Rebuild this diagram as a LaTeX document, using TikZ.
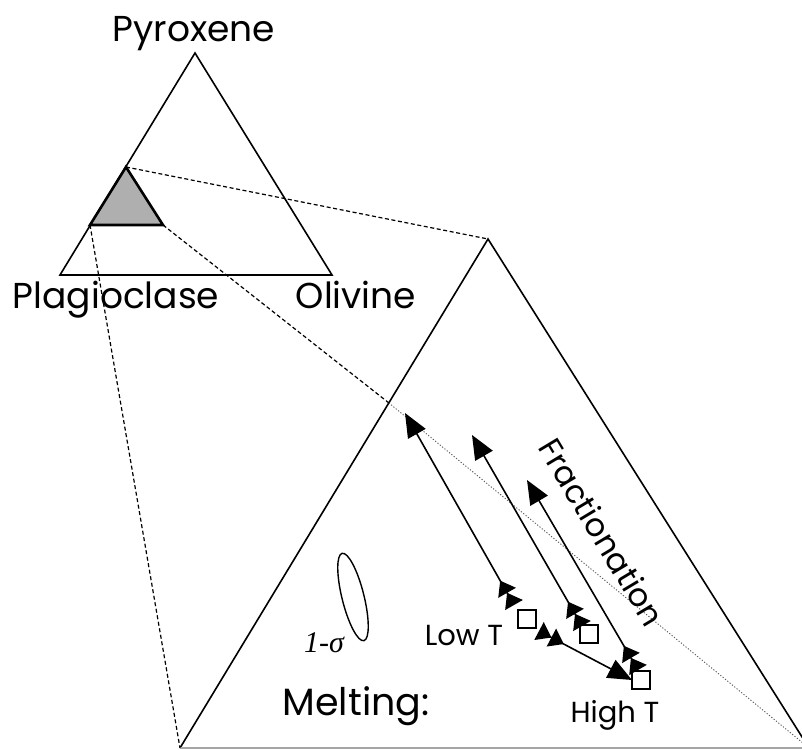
\documentclass[tikz,border=0pt]{standalone}
\usepackage{fontspec}
\setmainfont{Poppins}
\newfontfamily\sigmafont{Liberation Serif}
\usepackage{tikz}
\usetikzlibrary{shapes.geometric, arrows.meta, positioning, calc}
\definecolor{myink}{RGB}{0,0,0}
\definecolor{mydots}{RGB}{90,90,90}
\definecolor{myshade}{RGB}{175,175,175}
\tikzset{
  edge/.style={line width=0.8pt, color=myink, line join=miter},
  linkline/.style={line width=0.6pt, color=myink, dash pattern=on 2pt off 1.3pt},
  dotline/.style={line width=0.45pt, color=mydots, dash pattern=on 0.6pt off 0.9pt},
  label/.style={anchor=base, inner sep=0pt, text=myink},
  sample/.style={rectangle, draw=myink, fill=white, minimum size=9pt,
    inner sep=0pt, line width=0.7pt},
  trend/.style={line width=0.8pt, color=myink}
}
\begin{document}
\begin{tikzpicture}[x=0.5pt, y=-0.5pt]
  \useasboundingbox (0,0) rectangle (802,749);
  \clip (0,0) rectangle (802,749);

  % ternary triangle
  \coordinate (pxtop) at (195,53);
  \coordinate (plleft) at (60,275);
  \coordinate (olright) at (332,275);
  \draw[edge] (pxtop) -- (plleft) -- (olright) -- cycle;

  % shaded field
  \coordinate (shtop) at (126,167);
  \coordinate (shleft) at (90,225);
  \coordinate (shright) at (163,225);
  \draw[line width=1.3pt, fill=myshade] (shtop) -- (shleft) -- (shright) -- cycle;

  % enlarged field
  \coordinate (bigtop) at (488,239);
  \coordinate (bigleft) at (180,748);
  \coordinate (bigright) at (809,748);
  \draw[edge] (bigleft) -- (bigtop) -- (bigright);
  \draw[line width=0.6pt, color=black!35] (bigleft) -- (bigright);
  \coordinate (enter) at ($(bigtop)!0.322!(bigleft)$);

  \draw[linkline] (shtop) -- (bigtop);
  \draw[linkline] (shleft) -- (bigleft);
  \draw[linkline] (shright) -- (enter);
  \draw[dotline] (enter) -- (bigright);

  % labels
  \node[label, font=\fontsize{18}{20}\selectfont] (pyrox) at (194,42) {Pyroxene};
  \node[label, font=\fontsize{18}{20}\selectfont] (plag) at (116,308) {Plagioclase};
  \node[label, font=\fontsize{18}{20}\selectfont] (oliv) at (356,308) {Olivine};
  \node[label, font=\fontsize{19}{21}\selectfont] (melt) at (356,715) {Melting:};
  \node[label, font=\fontsize{14.5}{16}\selectfont] (lowt) at (464,645) {Low T};
  \node[label, font=\fontsize{14.5}{16}\selectfont] (hight) at (615,722) {High T};
  \node[label, font=\sigmafont\itshape\fontsize{15}{17}\selectfont] (sigma) at (324,652) {1-σ};
  \node[inner sep=0pt, rotate=-59, font=\fontsize{16}{18}\selectfont] (fract) at (602,532) {Fractionation};

  % 1-sigma ellipse
  \node[ellipse, draw=myink, line width=0.7pt, minimum width=11pt, minimum height=45pt,
    inner sep=0pt, rotate=14] (ell) at (353,597) {};

  % samples
  \node[sample] (sqlow) at (527,619) {};
  \node[sample] (sqmid) at (589,634) {};
  \node[sample] (sqhigh) at (641,680) {};

  % fractionation and melting vectors
  \coordinate (f1) at (514,605); \coordinate (t1) at (405,413);
  \coordinate (f2) at (582,626); \coordinate (t2) at (472,435);
  \coordinate (f3) at (638,670); \coordinate (t3) at (527,480);
  \coordinate (f4) at (539,631); \coordinate (t4) at (632,680);
  \foreach \f/\t in {f1/t1, f2/t2, f3/t3, f4/t4}
    \draw[trend, {Triangle[reversed, length=7pt, width=10pt] Triangle[reversed, length=7pt, width=10pt]}-{Triangle[length=12pt, width=10pt]}] (\f) -- (\t);
\end{tikzpicture}
\end{document}
